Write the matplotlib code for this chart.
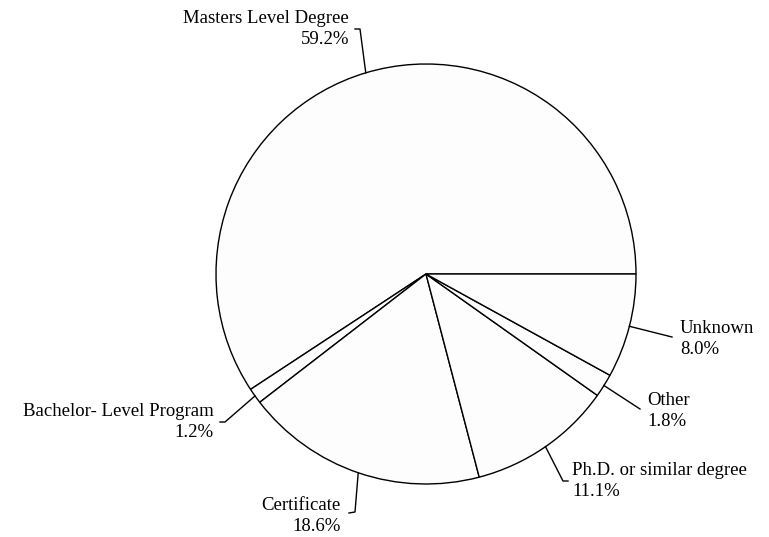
import numpy as np
import matplotlib
matplotlib.use("Agg")
import matplotlib.pyplot as plt

labels = ["Masters Level Degree", "Bachelor- Level Program", "Certificate",
          "Ph.D. or similar degree", "Other", "Unknown"]
shares = [59.2, 1.2, 18.6, 11.1, 1.8, 8.0]

W, H = 769, 537
center_px = (426, 274)
radius_px = 210

# where each leader ends (kink), hook end, text anchor -- image pixel coords
leader_kink = [(360, 29), (225, 422), (355, 512), (563, 481), (640, 409), (672, 337)]
hook_end = [(355, 29), (220, 422), (349, 513), (568, 481), (640, 409), (672, 337)]
text_pos = [(349, 29), (214, 422), (341, 516), (572, 481), (647, 411), (680, 339)]
text_align = ["right", "right", "right", "left", "left", "left"]

plt.rcParams["font.family"] = ["Liberation Serif", "DejaVu Serif"]

fig = plt.figure(figsize=(W / 100, H / 100), dpi=100)
ax = fig.add_axes([0, 0, 1, 1])

cx, cy = center_px[0], H - center_px[1]
wedges, _ = ax.pie(shares, startangle=0, counterclock=True,
                   center=(cx, cy), radius=radius_px, frame=True,
                   colors=["#fdfdfd"] * len(shares),
                   wedgeprops=dict(edgecolor="black", linewidth=1.0))
ax.set_xlim(0, W)
ax.set_ylim(0, H)
ax.set_aspect("equal")
ax.axis("off")

for i, w in enumerate(wedges):
    mid = np.deg2rad((w.theta1 + w.theta2) / 2)
    sx = cx + radius_px * np.cos(mid)
    sy = cy + radius_px * np.sin(mid)
    kx, ky = leader_kink[i]
    hx, hy = hook_end[i]
    ax.plot([sx, kx, hx], [sy, H - ky, H - hy], color="black", lw=1.0)
    tx, ty = text_pos[i]
    ax.text(tx, H - ty, f"{labels[i]}\n{shares[i]:.1f}%", ha=text_align[i],
            va="center", multialignment=text_align[i], fontsize=13.5,
            linespacing=1.35, color="black")

fig.savefig("out.png", dpi=100)
